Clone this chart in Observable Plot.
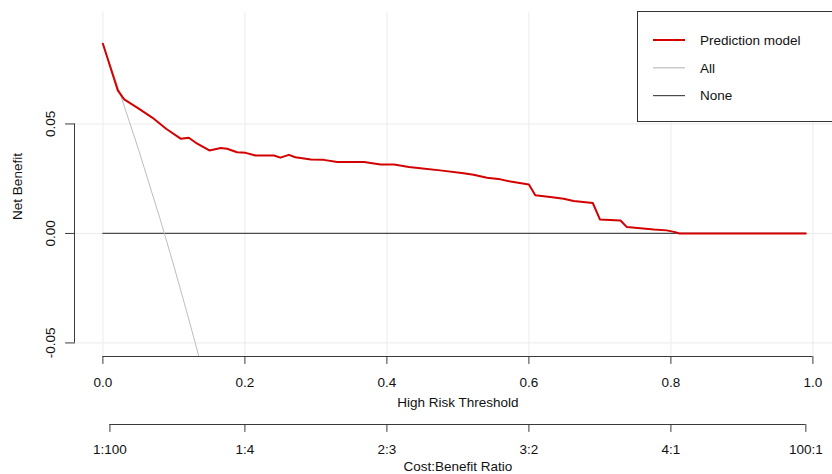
<!DOCTYPE html>
<html>
<head>
<meta charset="utf-8">
<script src="https://cdn.jsdelivr.net/npm/d3@7"></script>
<script src="https://cdn.jsdelivr.net/npm/@observablehq/plot@0.6"></script>
<style>
html, body { margin: 0; padding: 0; background: #fff; }
#chart { width: 832px; height: 474px; overflow: hidden; }
</style>
</head>
<body>
<div id="chart"></div>
<script>
// ---- data ----
const modelThreshold = [0, 0.021, 0.030, 0.051, 0.070, 0.089, 0.110, 0.121, 0.131, 0.150, 0.166, 0.175, 0.189, 0.201, 0.215, 0.241, 0.250, 0.262, 0.271, 0.293, 0.311, 0.330, 0.368, 0.391, 0.410, 0.431, 0.447, 0.475, 0.508, 0.522, 0.541, 0.560, 0.574, 0.600, 0.609, 0.630, 0.649, 0.663, 0.690, 0.700, 0.729, 0.738, 0.757, 0.776, 0.794, 0.806, 0.812, 0.99];
const modelNetBenefit = [0.0866, 0.0653, 0.0612, 0.0569, 0.0528, 0.0478, 0.0432, 0.0437, 0.0414, 0.0379, 0.0390, 0.0387, 0.0371, 0.0368, 0.0356, 0.0356, 0.0346, 0.0359, 0.0348, 0.0338, 0.0336, 0.0326, 0.0326, 0.0315, 0.0315, 0.0303, 0.0298, 0.0288, 0.0275, 0.0268, 0.0254, 0.0247, 0.0237, 0.0224, 0.0174, 0.0166, 0.0158, 0.0148, 0.0139, 0.0064, 0.0059, 0.0029, 0.0024, 0.0018, 0.0014, 0.0006, 0, 0];

const allThreshold = [0, 0.02, 0.05, 0.08, 0.10, 0.12, 0.14];
const allNetBenefit = [0.0866, 0.0680, 0.0385, 0.0072, -0.0149, -0.0380, -0.0620];

const noneThreshold = [0, 0.99];
const noneNetBenefit = [0, 0];

const xTicks = [0, 0.2, 0.4, 0.6, 0.8, 1.0];
const xTickLabels = ["0.0", "0.2", "0.4", "0.6", "0.8", "1.0"];
const yTicks = [-0.05, 0, 0.05];
const yTickLabels = ["-0.05", "0.00", "0.05"];
const costBenefitTicks = [1 / 101, 0.2, 0.4, 0.6, 0.8, 100 / 101];
const costBenefitLabels = ["1:100", "1:4", "2:3", "3:2", "4:1", "100:1"];

const seriesNames = ["Prediction model", "All", "None"];
const seriesColors = ["#d40000", "#bdbdbd", "#4a4a4a"];
const seriesWidths = [2, 1, 1.2];

const xTitle = "High Risk Threshold";
const yTitle = "Net Benefit";
const x2Title = "Cost:Benefit Ratio";

// ---- tables ----
const model = modelThreshold.map((t, i) => ({t, nb: modelNetBenefit[i]}));
const all = allThreshold.map((t, i) => ({t, nb: allNetBenefit[i]}));
const none = noneThreshold.map((t, i) => ({t, nb: noneNetBenefit[i]}));

const xDomain = [-0.04, 1.0276];
const yDomain = [-0.0562, 0.1009];
const axisColor = "#3a3a3a";
const gridColor = "#ebebeb";
const textColor = "#111";

// plain tick shape (no arrow head)
const tickShape = {draw(context, l) { context.moveTo(0, 0); context.lineTo(0, -l); }};

const chart = Plot.plot({
  width: 832,
  height: 474,
  marginLeft: 74,
  marginRight: 0,
  marginTop: 12,
  marginBottom: 118,
  x: {domain: xDomain, axis: null},
  y: {domain: yDomain, axis: null},
  style: {
    fontFamily: "'Liberation Sans', Arial, sans-serif",
    fontSize: "13.5px",
    color: textColor,
    background: "#fff"
  },
  marks: [
    // grid
    Plot.ruleX(xTicks, {x: d => d, stroke: gridColor, strokeWidth: 1}),
    Plot.ruleY(yTicks, {y: d => d, stroke: gridColor, strokeWidth: 1}),
    // series
    Plot.line(none, {x: "t", y: "nb", stroke: seriesColors[2], strokeWidth: seriesWidths[2]}),
    Plot.line(all, {x: "t", y: "nb", stroke: seriesColors[1], strokeWidth: seriesWidths[1], clip: true}),
    Plot.line(model, {x: "t", y: "nb", stroke: seriesColors[0], strokeWidth: seriesWidths[0], clip: true}),
    // y axis
    Plot.ruleX([xDomain[0]], {x: d => d, y1: () => yTicks[0], y2: () => yTicks[yTicks.length - 1], stroke: axisColor}),
    Plot.vector(yTicks, {y: d => d, frameAnchor: "left", length: 9, rotate: -90, anchor: "start", shape: tickShape, stroke: axisColor, strokeWidth: 1}),
    Plot.text(yTicks, {y: d => d, text: (d, i) => yTickLabels[i], frameAnchor: "left", rotate: -90, dx: -20, textAnchor: "middle", lineAnchor: "bottom", fill: textColor}),
    Plot.text([yTitle], {text: d => d, frameAnchor: "left", rotate: -90, dx: -57, dy: 2, textAnchor: "middle", lineAnchor: "middle", fill: textColor}),
    // x axis (threshold)
    Plot.ruleY([yDomain[0]], {y: d => d, x1: () => xTicks[0], x2: () => xTicks[xTicks.length - 1], stroke: axisColor}),
    Plot.vector(xTicks, {x: d => d, frameAnchor: "bottom", length: 7, rotate: 180, anchor: "start", shape: tickShape, stroke: axisColor, strokeWidth: 1}),
    Plot.text(xTicks, {x: d => d, text: (d, i) => xTickLabels[i], frameAnchor: "bottom", dy: 26, lineAnchor: "middle", fill: textColor}),
    Plot.text([xTitle], {x: () => 0.5, text: d => d, frameAnchor: "bottom", dy: 46, lineAnchor: "middle", fill: textColor}),
    // second x axis (cost:benefit)
    Plot.ruleY([yDomain[0]], {y: d => d, x1: () => costBenefitTicks[0], x2: () => costBenefitTicks[costBenefitTicks.length - 1], dy: 68, stroke: axisColor}),
    Plot.vector(costBenefitTicks, {x: d => d, frameAnchor: "bottom", length: 7, rotate: 180, anchor: "start", shape: tickShape, dy: 68, stroke: axisColor, strokeWidth: 1}),
    Plot.text(costBenefitTicks, {x: d => d, text: (d, i) => costBenefitLabels[i], frameAnchor: "bottom", dy: 93, lineAnchor: "middle", fill: textColor}),
    Plot.text([x2Title], {x: () => 0.5, text: d => d, frameAnchor: "bottom", dy: 110, lineAnchor: "middle", fill: textColor})
  ]
});

// legend (top-right box, as in the reference)
const svg = d3.select(chart);
const lg = svg.append("g").attr("class", "legend");
lg.append("rect")
  .attr("x", 637.5).attr("y", 11.5).attr("width", 210).attr("height", 110)
  .attr("fill", "#fff").attr("stroke", "#333").attr("stroke-width", 1);
seriesNames.forEach((name, i) => {
  const cy = 40 + i * 27.8;
  lg.append("line")
    .attr("x1", 653).attr("x2", 685).attr("y1", cy).attr("y2", cy)
    .attr("stroke", seriesColors[i]).attr("stroke-width", i === 0 ? 2 : 1.2);
  lg.append("text")
    .attr("x", 700).attr("y", cy).attr("dy", "0.35em")
    .attr("text-anchor", "start")
    .attr("fill", textColor)
    .style("font-size", "13.5px")
    .text(name);
});

document.getElementById("chart").appendChild(chart);
</script>
</body>
</html>
